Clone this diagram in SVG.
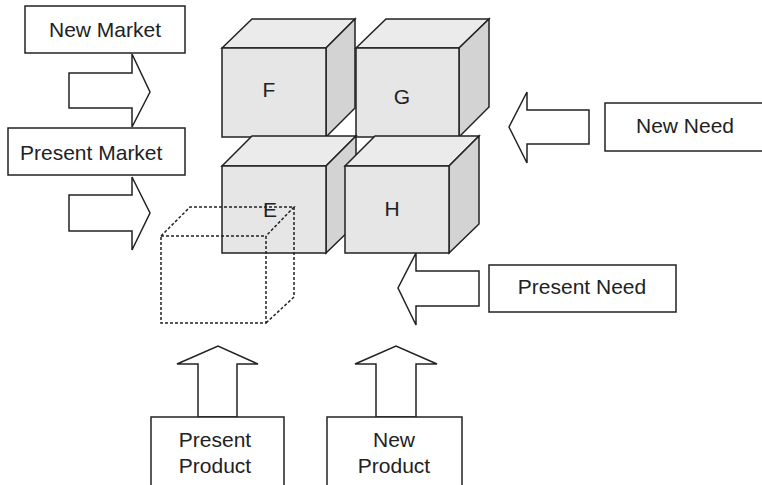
<svg xmlns="http://www.w3.org/2000/svg" width="762" height="485" viewBox="0 0 762 485">
<style>
  .box { fill: #ffffff; stroke: #222222; stroke-width: 1.5; }
  .arrow { fill: #ffffff; stroke: #222222; stroke-width: 1.5; stroke-linejoin: miter; }
  .front { fill: #e6e6e6; stroke: #222222; stroke-width: 1.5; stroke-linejoin: miter; }
  .top { fill: #ebebeb; stroke: #222222; stroke-width: 1.5; stroke-linejoin: miter; }
  .side { fill: #d3d3d3; stroke: #222222; stroke-width: 1.5; stroke-linejoin: miter; }
  .dash { fill: none; stroke: #222222; stroke-width: 1.5; stroke-dasharray: 3 2; }
  .lbl { font-family: "Liberation Sans", Arial, sans-serif; font-size: 21px; fill: #222222; }
</style>
<rect width="762" height="485" fill="#ffffff"/>

<g id="connectors">
  <polygon class="arrow" points="69,73 132,73 132,54 150,92 132,127 132,108 69,108"/>
  <polygon class="arrow" points="69,195 132,195 132,177 150,213 132,250 132,231 69,231"/>
  <polygon class="arrow" points="589,110 527,110 527,92 509,127 527,163 527,144 589,144"/>
  <polygon class="arrow" points="479,271 416,271 416,253 398,288 416,325 416,306 479,306"/>
  <polygon class="arrow" points="198,417 198,364 177,364 218,346 258,364 237,364 237,417"/>
  <polygon class="arrow" points="376,417 376,364 355,364 396,346 437,364 416,364 416,417"/>
</g>

<g id="new-market">
  <rect class="box" x="25" y="6" width="160" height="47"/>
  <text class="lbl" x="105" y="37" text-anchor="middle">New Market</text>
</g>
<g id="present-market">
  <rect class="box" x="8" y="128" width="177" height="47"/>
  <text class="lbl" x="20" y="160">Present Market</text>
</g>
<g id="new-need">
  <rect class="box" x="605" y="103" width="160" height="48"/>
  <text class="lbl" x="685" y="133" text-anchor="middle">New Need</text>
</g>
<g id="present-need">
  <rect class="box" x="489" y="265" width="187" height="47"/>
  <text class="lbl" x="582" y="294" text-anchor="middle">Present Need</text>
</g>
<g id="present-product">
  <rect class="box" x="151" y="417" width="133" height="80"/>
  <text class="lbl" x="215" y="447" text-anchor="middle">Present</text>
  <text class="lbl" x="215" y="473" text-anchor="middle">Product</text>
</g>
<g id="new-product">
  <rect class="box" x="327" y="417" width="135" height="80"/>
  <text class="lbl" x="394" y="447" text-anchor="middle">New</text>
  <text class="lbl" x="394" y="473" text-anchor="middle">Product</text>
</g>

<g id="cube-f">
  <polygon class="top" points="222,48 252,19 355,19 326,48"/>
  <polygon class="side" points="326,48 355,19 355,108 326,137"/>
  <rect class="front" x="222" y="48" width="104" height="89"/>
  <text class="lbl" x="269" y="97" text-anchor="middle">F</text>
</g>
<g id="cube-g">
  <polygon class="top" points="356,48 386,19 489,19 459,48"/>
  <polygon class="side" points="459,48 489,19 489,107 459,137"/>
  <rect class="front" x="356" y="48" width="103" height="89"/>
  <text class="lbl" x="402" y="104" text-anchor="middle">G</text>
</g>
<g id="cube-e">
  <polygon class="top" points="222,166 252,136 356,136 326,166"/>
  <polygon class="side" points="326,166 356,136 356,224 326,253"/>
  <rect class="front" x="222" y="166" width="104" height="87"/>
  <text class="lbl" x="270" y="217" text-anchor="middle">E</text>
</g>
<g id="cube-h">
  <polygon class="top" points="345,166 375,136 479,136 449,166"/>
  <polygon class="side" points="449,166 479,136 479,224 449,253"/>
  <rect class="front" x="345" y="166" width="104" height="87"/>
  <text class="lbl" x="392" y="216" text-anchor="middle">H</text>
</g>
<g id="cube-dashed">
  <rect class="dash" x="161" y="236" width="105" height="87"/>
  <polyline class="dash" points="161,236 190,207 294,207 266,236"/>
  <polyline class="dash" points="294,207 294,297 266,323"/>
</g>
</svg>
